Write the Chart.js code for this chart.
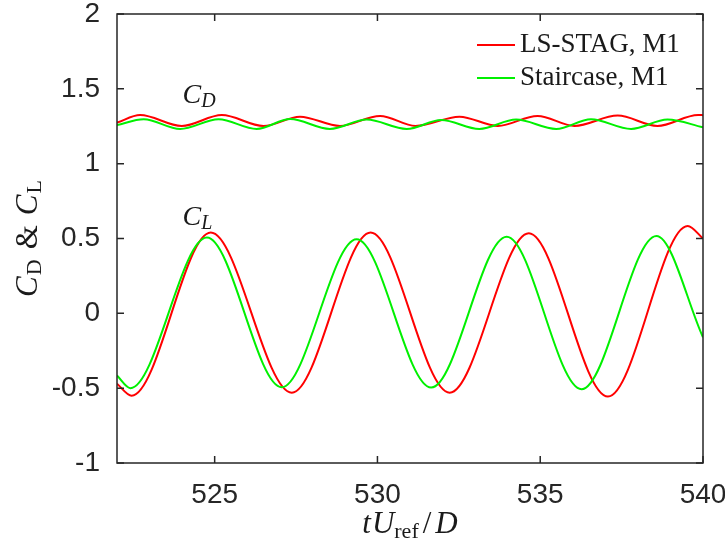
<!DOCTYPE html>
<html>
<head>
<meta charset="utf-8">
<script src="https://cdn.jsdelivr.net/npm/chart.js"></script>
<style>
body { margin: 0; background: #fff; }
</style>
</head>
<body>
<canvas id="chart" width="725" height="541"></canvas>
<script>
// time axis + tick labels
var xTicks = [525, 530, 535, 540];
var yTicks = [-1, -0.5, 0, 0.5, 1, 1.5, 2];

var seriesNames = ['LS-STAG, M1', 'Staircase, M1'];
var seriesColors = ['#ff0000', '#00f000'];

// lift, LS-STAG (peaks and troughs, plus the ends)
var tRedCL = [522.0, 522.45, 524.88, 527.37, 529.79, 532.22, 534.65, 537.08, 539.53, 540.0];
var redCL = [-0.47, -0.55, 0.54, -0.53, 0.54, -0.53, 0.535, -0.556, 0.584, 0.50];

// lift, staircase
var tGreenCL = [522.0, 522.41, 524.76, 527.06, 529.36, 531.65, 533.97, 536.27, 538.57, 540.0];
var greenCL = [-0.416, -0.50, 0.506, -0.494, 0.495, -0.496, 0.512, -0.507, 0.517, -0.16];

// drag, LS-STAG
var tRedCD = [522.0, 522.71, 523.99, 525.22, 526.5, 527.62, 528.85, 530.08, 531.17, 532.52, 533.7, 534.92, 536.05, 537.38, 538.6, 539.85, 540.0];
var redCD = [1.274, 1.325, 1.252, 1.325, 1.252, 1.314, 1.252, 1.319, 1.252, 1.314, 1.252, 1.319, 1.252, 1.321, 1.252, 1.325, 1.324];

// drag, staircase
var tGreenCD = [522.0, 522.82, 523.94, 525.12, 526.29, 527.32, 528.54, 529.67, 530.9, 531.96, 533.13, 534.26, 535.49, 536.56, 537.79, 538.91, 540.0];
var greenCD = [1.258, 1.297, 1.232, 1.297, 1.232, 1.298, 1.232, 1.295, 1.232, 1.292, 1.232, 1.295, 1.232, 1.297, 1.232, 1.295, 1.243];

// curve labels C_D / C_L (left end of the C, baseline)
var noteX = [524.015, 524.015];
var noteY = [1.405, 0.59];
var noteSub = ['D', 'L'];

function pts(ts, vs) {
    var out = [];
    for (var i = 0; i < ts.length; i++) {
        out.push({ x: ts[i], y: vs[i] });
    }
    return out;
}

function line(data, color) {
    return {
        data: data,
        borderColor: color,
        borderWidth: 2,
        pointRadius: 0,
        fill: false,
        cubicInterpolationMode: 'monotone'
    };
}

var I31 = 'italic 31px "Liberation Serif"';
var R31 = '31px "Liberation Serif"';
var R22 = '22px "Liberation Serif"';
var I28 = 'italic 28px "Liberation Serif"';
var I20 = 'italic 20px "Liberation Serif"';

function partsWidth(ctx, parts) {
    var w = 0;
    parts.forEach(function(p) {
        ctx.font = p.f;
        w += ctx.measureText(p.t).width + (p.gap || 0);
    });
    return w;
}

function drawParts(ctx, parts, x, y) {
    parts.forEach(function(p) {
        ctx.font = p.f;
        ctx.fillText(p.t, x, y + (p.dy || 0));
        x += ctx.measureText(p.t).width + (p.gap || 0);
    });
}

// no extra room for overhanging tick labels, the area is fixed by the layout padding
function noOverhang(scale) {
    scale.paddingTop = 0;
    scale.paddingBottom = 0;
    scale.paddingLeft = 0;
    scale.paddingRight = 0;
}

var decorPlugin = {
    id: 'decor',
    afterDatasetsDraw: function(chart) {
        var ctx = chart.ctx;
        var a = chart.chartArea;
        var xs = chart.scales.x;
        var ys = chart.scales.y;
        ctx.save();

        // box and inward ticks
        ctx.strokeStyle = '#262626';
        ctx.lineWidth = 1.5;
        ctx.strokeRect(a.left, a.top, a.right - a.left, a.bottom - a.top);
        ctx.beginPath();
        xTicks.forEach(function(v) {
            var px = xs.getPixelForValue(v);
            ctx.moveTo(px, a.bottom); ctx.lineTo(px, a.bottom - 7);
            ctx.moveTo(px, a.top); ctx.lineTo(px, a.top + 7);
        });
        yTicks.forEach(function(v) {
            var py = ys.getPixelForValue(v);
            ctx.moveTo(a.left, py); ctx.lineTo(a.left + 7, py);
            ctx.moveTo(a.right, py); ctx.lineTo(a.right - 7, py);
        });
        ctx.stroke();

        ctx.fillStyle = '#1a1a1a';
        ctx.textBaseline = 'alphabetic';
        ctx.textAlign = 'left';

        // curve labels
        for (var i = 0; i < noteX.length; i++) {
            drawParts(ctx, [
                { t: 'C', f: I28, gap: 0 },
                { t: noteSub[i], f: I20, dy: 4 }
            ], xs.getPixelForValue(noteX[i]), ys.getPixelForValue(noteY[i]));
        }

        // x title
        var xt = [
            { t: 't', f: I31, gap: 1 },
            { t: 'U', f: I31, gap: 0 },
            { t: 'ref', f: R22, dy: 5, gap: 4 },
            { t: '/', f: R31, gap: 4 },
            { t: 'D', f: I31 }
        ];
        var cx = (a.left + a.right) / 2;
        drawParts(ctx, xt, cx - partsWidth(ctx, xt) / 2, 533);

        // y title
        var yt = [
            { t: 'C', f: I31, gap: 1 },
            { t: 'D', f: R22, dy: 4, gap: 10 },
            { t: '&', f: R31, gap: 10 },
            { t: 'C', f: I31, gap: 1 },
            { t: 'L', f: R22, dy: 4 }
        ];
        ctx.save();
        ctx.translate(37, (a.top + a.bottom) / 2);
        ctx.rotate(-Math.PI / 2);
        drawParts(ctx, yt, -partsWidth(ctx, yt) / 2, 0);
        ctx.restore();

        // legend
        ctx.font = '27px "Liberation Serif"';
        for (var k = 0; k < seriesNames.length; k++) {
            var ly = a.top + 31 + k * 33;
            ctx.strokeStyle = seriesColors[k];
            ctx.lineWidth = 2;
            ctx.beginPath();
            ctx.moveTo(a.right - 226, ly);
            ctx.lineTo(a.right - 188, ly);
            ctx.stroke();
            ctx.fillStyle = '#1a1a1a';
            ctx.fillText(seriesNames[k], a.right - 183, ly + 7);
        }
        ctx.restore();
    }
};

var tickFont = { family: '"Liberation Sans", Arial, sans-serif', size: 28 };

new Chart(document.getElementById('chart'), {
    type: 'line',
    data: {
        datasets: [
            line(pts(tGreenCD, greenCD), seriesColors[1]),
            line(pts(tRedCD, redCD), seriesColors[0]),
            line(pts(tGreenCL, greenCL), seriesColors[1]),
            line(pts(tRedCL, redCL), seriesColors[0])
        ]
    },
    options: {
        responsive: false,
        animation: false,
        layout: { padding: { top: 14, right: 22, left: 0, bottom: 0 } },
        plugins: { legend: { display: false }, tooltip: { enabled: false } },
        scales: {
            x: {
                type: 'linear',
                min: 522,
                max: 540,
                grid: { display: false, drawTicks: false },
                border: { display: false },
                afterBuildTicks: function(scale) {
                    scale.ticks = xTicks.map(function(v) { return { value: v }; });
                },
                afterFit: function(scale) { scale.height = 78; noOverhang(scale); },
                ticks: {
                    font: tickFont,
                    color: '#262626',
                    padding: 15,
                    maxRotation: 0,
                    callback: function(v) { return String(v); }
                }
            },
            y: {
                min: -1,
                max: 2,
                grid: { display: false, drawTicks: false },
                border: { display: false },
                afterBuildTicks: function(scale) {
                    scale.ticks = yTicks.map(function(v) { return { value: v }; });
                },
                afterFit: function(scale) { scale.width = 117; noOverhang(scale); },
                ticks: {
                    font: tickFont,
                    color: '#262626',
                    padding: 17,
                    callback: function(v) { return String(v); }
                }
            }
        }
    },
    plugins: [decorPlugin]
});
</script>
</body>
</html>
